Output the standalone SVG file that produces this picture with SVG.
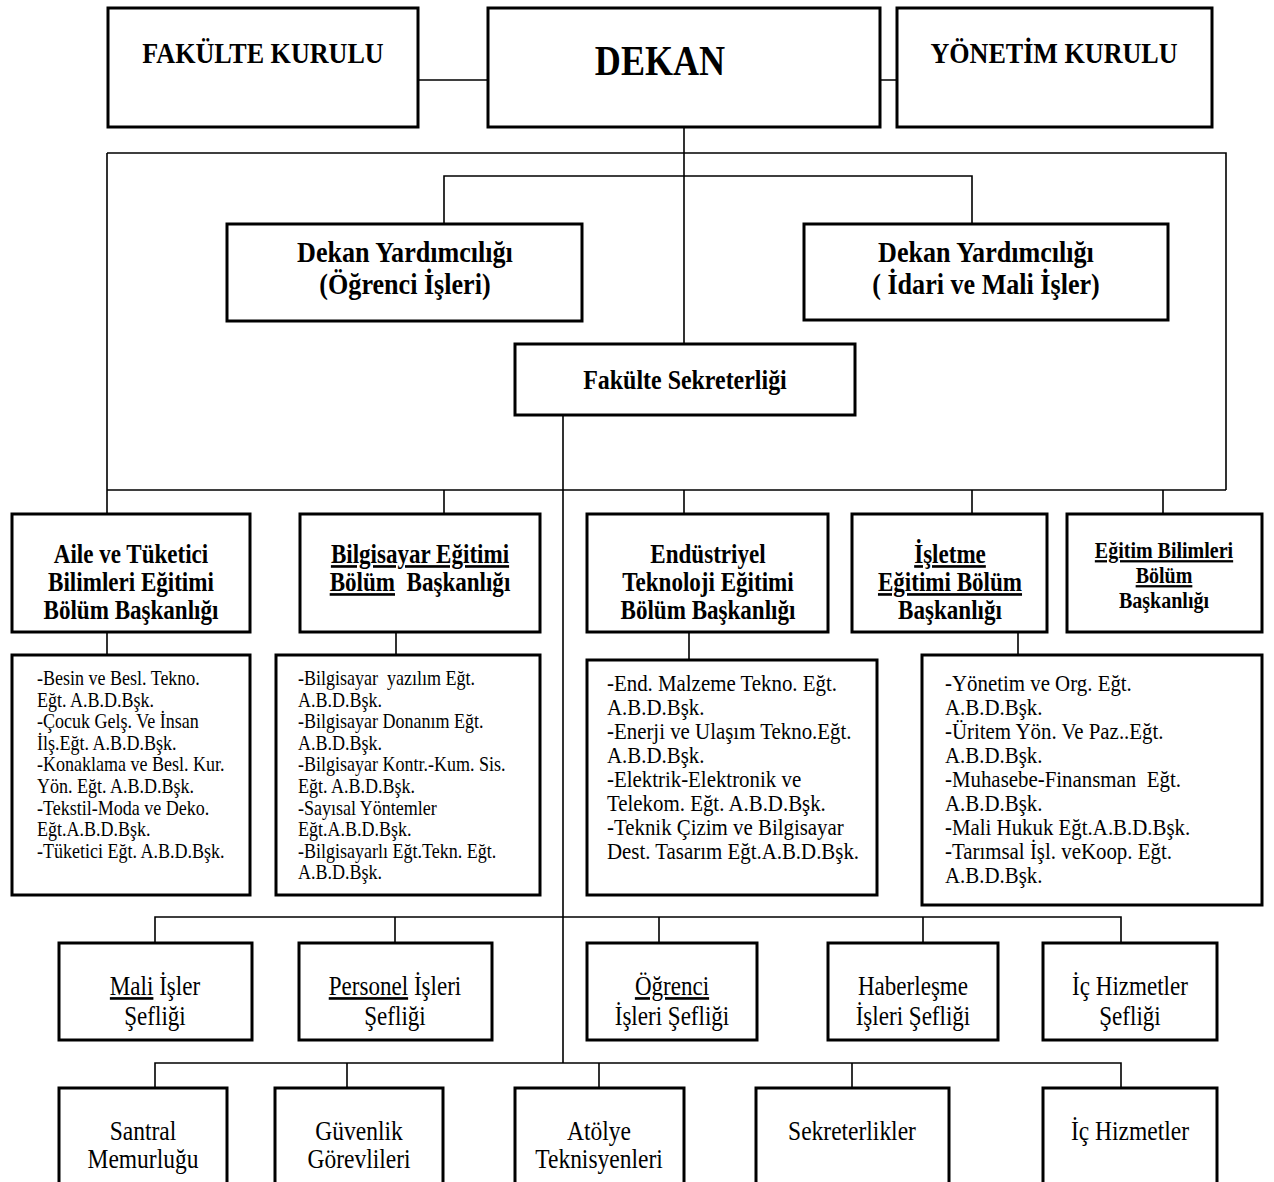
<svg xmlns="http://www.w3.org/2000/svg" width="1274" height="1182" viewBox="0 0 1274 1182">
<style>
.box{fill:#fff;stroke:#000;stroke-width:3}
.ln{fill:none;stroke:#000;stroke-width:1.6}
text{font-family:"Liberation Serif","Times New Roman",serif;fill:#000}
.b{font-weight:bold;text-anchor:middle}
.r{text-anchor:middle}
.u{text-decoration:underline}
.t{font-size:30px}
.d{font-size:26.5px}
.s{font-size:20.7px}
.m{font-size:24px}
.c{font-size:26.5px}
.e{font-size:27px}
</style>
<rect width="1274" height="1182" fill="#fff"/>
<g id="connectors">
<path class="ln" d="M418,80H488M880,80H897M684,127V344M107,153H1226V490M107,153V514M444,224V176H972V224M563,415V1063M107,490H1226M444,490V514M684,490V514M972,490V514M1163,490V514M107,632V655M396,632V655M689,632V660M1018,632V655M155,943V917H1121V943M395,917V943M659,917V943M923,917V943M155,1088V1063H1121V1088M347,1063V1088M599,1063V1088M852,1063V1088"/>
</g>
<g id="fakulte-kurulu"><rect class="box" x="108" y="8" width="310" height="119"/><g transform="matrix(.87 0 0 1 34.19 0)"><text class="b t" x="263" y="63">FAKÜLTE KURULU</text></g></g>
<g id="dekan"><rect class="box" x="488" y="8" width="392" height="119"/><g transform="matrix(.87 0 0 1 85.8 0)"><text class="b" x="660" y="75" font-size="41.5">DEKAN</text></g></g>
<g id="yonetim-kurulu"><rect class="box" x="897" y="8" width="315" height="119"/><g transform="matrix(.87 0 0 1 137.02 0)"><text class="b t" x="1054" y="63">YÖNETİM KURULU</text></g></g>
<g id="dy-ogrenci"><rect class="box" x="227" y="224" width="355" height="97"/><g transform="matrix(.87 0 0 1 52.65 0)"><text class="b t" x="405" y="262">Dekan Yardımcılığı</text><text class="b t" x="405" y="294">(Öğrenci İşleri)</text></g></g>
<g id="dy-idari"><rect class="box" x="804" y="224" width="364" height="96"/><g transform="matrix(.87 0 0 1 128.18 0)"><text class="b t" x="986" y="262">Dekan Yardımcılığı</text><text class="b t" x="986" y="294">( İdari ve Mali İşler)</text></g></g>
<g id="fakulte-sekreterligi"><rect class="box" x="515" y="344" width="340" height="71"/><g transform="matrix(.87 0 0 1 89.05 0)"><text class="b" x="685" y="389" font-size="27.5">Fakülte Sekreterliği</text></g></g>
<g id="aile"><rect class="box" x="12" y="514" width="238" height="118"/><g transform="matrix(.87 0 0 1 17.03 0)"><text class="b d" x="131" y="563">Aile ve Tüketici</text><text class="b d" x="131" y="591">Bilimleri Eğitimi</text><text class="b d" x="131" y="619">Bölüm Başkanlığı</text></g></g>
<g id="bilgisayar"><rect class="box" x="300" y="514" width="240" height="118"/><g transform="matrix(.87 0 0 1 54.6 0)"><text class="b d" x="420" y="563"><tspan class="u">Bilgisayar Eğitimi</tspan></text><text class="b d" x="420" y="591" xml:space="preserve"><tspan class="u">Bölüm</tspan>  Başkanlığı</text></g></g>
<g id="endustriyel"><rect class="box" x="587" y="514" width="241" height="118"/><g transform="matrix(.87 0 0 1 92.04 0)"><text class="b d" x="708" y="563">Endüstriyel</text><text class="b d" x="708" y="591">Teknoloji Eğitimi</text><text class="b d" x="708" y="619">Bölüm Başkanlığı</text></g></g>
<g id="isletme"><rect class="box" x="852" y="514" width="195" height="118"/><g transform="matrix(.87 0 0 1 123.5 0)"><text class="b d" x="950" y="563"><tspan class="u">İşletme</tspan></text><text class="b d" x="950" y="591"><tspan class="u">Eğitimi Bölüm</tspan></text><text class="b d" x="950" y="619">Başkanlığı</text></g></g>
<g id="egitim-bilimleri"><rect class="box" x="1067" y="514" width="195" height="118"/><g transform="matrix(.87 0 0 1 151.32 0)"><text class="b" font-size="23" x="1164" y="558"><tspan class="u">Eğitim Bilimleri</tspan></text><text class="b" font-size="23" x="1164" y="583"><tspan class="u">Bölüm</tspan></text><text class="b" font-size="23" x="1164" y="608">Başkanlığı</text></g></g>
<g id="aile-list"><rect class="box" x="12" y="655" width="238" height="240"/><g transform="matrix(.87 0 0 1 4.81 0)">
<text class="s" x="37" y="685">-Besin ve Besl. Tekno.</text>
<text class="s" x="37" y="706.6">Eğt. A.B.D.Bşk.</text>
<text class="s" x="37" y="728.2">-Çocuk Gelş. Ve İnsan</text>
<text class="s" x="37" y="749.8">İlş.Eğt. A.B.D.Bşk.</text>
<text class="s" x="37" y="771.4">-Konaklama ve Besl. Kur.</text>
<text class="s" x="37" y="793">Yön. Eğt. A.B.D.Bşk.</text>
<text class="s" x="37" y="814.6">-Tekstil-Moda ve Deko.</text>
<text class="s" x="37" y="836.2">Eğt.A.B.D.Bşk.</text>
<text class="s" x="37" y="857.8">-Tüketici Eğt. A.B.D.Bşk.</text>
</g></g>
<g id="bilgisayar-list"><rect class="box" x="276" y="655" width="264" height="240"/><g transform="matrix(.87 0 0 1 38.74 0)">
<text class="s" x="298" y="685" xml:space="preserve">-Bilgisayar  yazılım Eğt.</text>
<text class="s" x="298" y="706.6">A.B.D.Bşk.</text>
<text class="s" x="298" y="728.2">-Bilgisayar Donanım Eğt.</text>
<text class="s" x="298" y="749.8">A.B.D.Bşk.</text>
<text class="s" x="298" y="771.4">-Bilgisayar Kontr.-Kum. Sis.</text>
<text class="s" x="298" y="793">Eğt. A.B.D.Bşk.</text>
<text class="s" x="298" y="814.6">-Sayısal Yöntemler</text>
<text class="s" x="298" y="836.2">Eğt.A.B.D.Bşk.</text>
<text class="s" x="298" y="857.8">-Bilgisayarlı Eğt.Tekn. Eğt.</text>
<text class="s" x="298" y="879.4">A.B.D.Bşk.</text>
</g></g>
<g id="endustriyel-list"><rect class="box" x="587" y="660" width="290" height="235"/><g transform="matrix(.87 0 0 1 78.91 0)">
<text class="m" x="607" y="691">-End. Malzeme Tekno. Eğt.</text>
<text class="m" x="607" y="715">A.B.D.Bşk.</text>
<text class="m" x="607" y="739">-Enerji ve Ulaşım Tekno.Eğt.</text>
<text class="m" x="607" y="763">A.B.D.Bşk.</text>
<text class="m" x="607" y="787">-Elektrik-Elektronik ve</text>
<text class="m" x="607" y="811">Telekom. Eğt. A.B.D.Bşk.</text>
<text class="m" x="607" y="835">-Teknik Çizim ve Bilgisayar</text>
<text class="m" x="607" y="859">Dest. Tasarım Eğt.A.B.D.Bşk.</text>
</g></g>
<g id="isletme-list"><rect class="box" x="922" y="655" width="340" height="250"/><g transform="matrix(.87 0 0 1 122.85 0)">
<text class="m" x="945" y="691">-Yönetim ve Org. Eğt.</text>
<text class="m" x="945" y="715">A.B.D.Bşk.</text>
<text class="m" x="945" y="739">-Üritem Yön. Ve Paz..Eğt.</text>
<text class="m" x="945" y="763">A.B.D.Bşk.</text>
<text class="m" x="945" y="787" xml:space="preserve">-Muhasebe-Finansman  Eğt.</text>
<text class="m" x="945" y="811">A.B.D.Bşk.</text>
<text class="m" x="945" y="835">-Mali Hukuk Eğt.A.B.D.Bşk.</text>
<text class="m" x="945" y="859">-Tarımsal İşl. veKoop. Eğt.</text>
<text class="m" x="945" y="883">A.B.D.Bşk.</text>
</g></g>
<g id="mali-isler"><rect class="box" x="59" y="943" width="193" height="97"/><g transform="matrix(.87 0 0 1 20.15 0)"><text class="r c" x="155" y="995"><tspan class="u">Mali</tspan> İşler</text><text class="r c" x="155" y="1025">Şefliği</text></g></g>
<g id="personel-isleri"><rect class="box" x="299" y="943" width="193" height="97"/><g transform="matrix(.87 0 0 1 51.35 0)"><text class="r c" x="395" y="995"><tspan class="u">Personel</tspan> İşleri</text><text class="r c" x="395" y="1025">Şefliği</text></g></g>
<g id="ogrenci-isleri"><rect class="box" x="587" y="943" width="170" height="97"/><g transform="matrix(.87 0 0 1 87.36 0)"><text class="r c" x="672" y="995"><tspan class="u">Öğrenci</tspan></text><text class="r c" x="672" y="1025">İşleri Şefliği</text></g></g>
<g id="haberlesme"><rect class="box" x="828" y="943" width="170" height="97"/><g transform="matrix(.87 0 0 1 118.69 0)"><text class="r c" x="913" y="995">Haberleşme</text><text class="r c" x="913" y="1025">İşleri Şefliği</text></g></g>
<g id="ic-hizmetler-seflik"><rect class="box" x="1043" y="943" width="174" height="97"/><g transform="matrix(.87 0 0 1 146.9 0)"><text class="r c" x="1130" y="995">İç Hizmetler</text><text class="r c" x="1130" y="1025">Şefliği</text></g></g>
<g id="santral"><rect class="box" x="59" y="1088" width="168" height="120"/><g transform="matrix(.87 0 0 1 18.59 0)"><text class="r e" x="143" y="1140">Santral</text><text class="r e" x="143" y="1168">Memurluğu</text></g></g>
<g id="guvenlik"><rect class="box" x="275" y="1088" width="168" height="120"/><g transform="matrix(.87 0 0 1 46.67 0)"><text class="r e" x="359" y="1140">Güvenlik</text><text class="r e" x="359" y="1168">Görevlileri</text></g></g>
<g id="atolye"><rect class="box" x="515" y="1088" width="169" height="120"/><g transform="matrix(.87 0 0 1 77.87 0)"><text class="r e" x="599" y="1140">Atölye</text><text class="r e" x="599" y="1168">Teknisyenleri</text></g></g>
<g id="sekreterlikler"><rect class="box" x="756" y="1088" width="193" height="120"/><g transform="matrix(.87 0 0 1 110.76 0)"><text class="r e" x="852" y="1140">Sekreterlikler</text></g></g>
<g id="ic-hizmetler"><rect class="box" x="1043" y="1088" width="174" height="120"/><g transform="matrix(.87 0 0 1 146.9 0)"><text class="r e" x="1130" y="1140">İç Hizmetler</text></g></g>
</svg>
